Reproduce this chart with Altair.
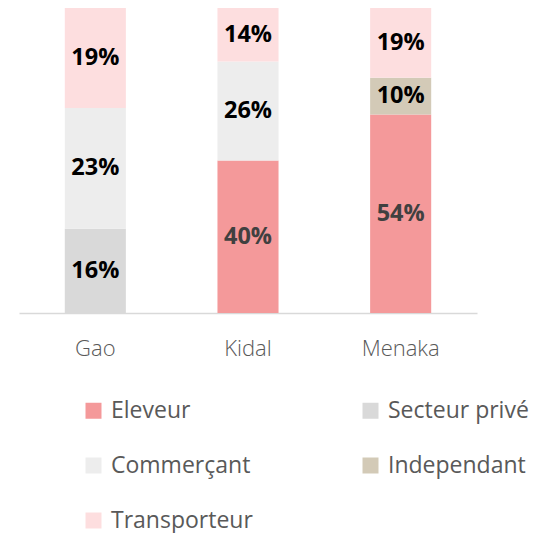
import altair as alt
import pandas as pd

regions = ["Gao", "Kidal", "Menaka"]
categories = ["Eleveur", "Secteur privé", "Commerçant", "Independant", "Transporteur"]
colors = ["#F4999A", "#D9D9D9", "#EDEDED", "#D3CAB7", "#FDDEDF"]
legend_order = ["Eleveur", "Commerçant", "Transporteur", "Secteur privé", "Independant"]

eleveur = [0, 40, 54]
secteur_prive = [16, 0, 0]
commercant = [23, 26, 0]
independant = [0, 0, 10]
transporteur = [19, 14, 19]

series = [eleveur, secteur_prive, commercant, independant, transporteur]
rows = []
for ci, (cat, vals) in enumerate(zip(categories, series)):
    for r, v in zip(regions, vals):
        if v > 0:
            rows.append({"region": r, "cat": cat, "ord": ci, "value": v})
df = pd.DataFrame(rows)

color_map = dict(zip(categories, colors))
legend_colors = [color_map[c] for c in legend_order]

base = alt.Chart(df).transform_stack(
    stack="value", groupby=["region"], as_=["y0", "y1"], offset="normalize",
    sort=[alt.SortField("ord", order="ascending")]
).transform_calculate(
    mid="(datum.y0 + datum.y1) / 2", label="datum.value + '%'"
)

x = alt.X("region:N", sort=regions, title=None,
          scale=alt.Scale(paddingInner=0.6, paddingOuter=0.3),
          axis=alt.Axis(labelAngle=0, labelFontSize=22, labelColor="#595959",
                        labelFont="Open Sans", labelFontWeight=300,
                        domainColor="#D9D9D9", domainWidth=1.5, ticks=False,
                        labelPadding=25))

bars = base.mark_bar().encode(
    x=x,
    y=alt.Y("y0:Q", axis=None, scale=alt.Scale(domain=[0, 1])),
    y2="y1:Q",
    color=alt.Color("cat:N",
                    scale=alt.Scale(domain=legend_order, range=legend_colors),
                    legend=alt.Legend(title=None, orient="none", legendX=63, legendY=391,
                                      columns=2, columnPadding=106, rowPadding=31,
                                      symbolType="square", symbolSize=256,
                                      symbolStrokeWidth=0, labelFontSize=23,
                                      labelFont="Open Sans", labelColor="#595959",
                                      labelOffset=6, labelLimit=300, padding=0)),
)

text = base.mark_text(font="Open Sans", fontWeight="bold", fontSize=23.5,
                      baseline="middle", align="center").encode(
    x=x,
    y=alt.Y("mid:Q", axis=None, scale=alt.Scale(domain=[0, 1])),
    text="label:N",
    color=alt.condition(alt.datum.cat == "Eleveur", alt.value("#404040"), alt.value("#000000")),
)

chart = (bars + text).properties(
    width=458, height=305,
    padding={"left": 11, "top": 0, "right": 0, "bottom": 0},
).configure_view(stroke=None)

chart.save("out.html", embed_options={"renderer": "svg", "actions": False})
